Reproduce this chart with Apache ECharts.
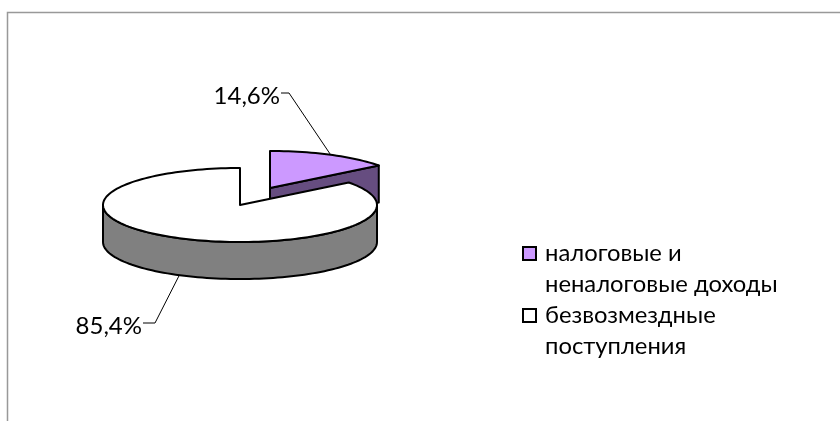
<!DOCTYPE html>
<html>
<head>
<meta charset="utf-8">
<script src="https://cdn.jsdelivr.net/npm/echarts@6/dist/echarts.min.js"></script>
<style>
html, body { margin: 0; background: #fff; }
#chart { width: 840px; height: 421px; }
</style>
</head>
<body>
<div id="chart"></div>
<script>
var categories = ['налоговые и\nненалоговые доходы', 'безвозмездные\nпоступления'];
var values = [14.6, 85.4];
var topColors = ['#cc99ff', '#ffffff'];
var sideColors = ['#664d80', '#808080'];

// tilted pie geometry
var centers = [[270, 188], [240, 205]];
var rx = 137, ry = 37, depth = 37;
var leaders = [
    { elbow: [289, 93], end: [281, 93], drop: 0 },
    { elbow: [155, 323], end: [143, 323], drop: 1 }
];
var fontFamily = 'Lato, "Noto Sans", sans-serif';
var total = values[0] + values[1];

function pt(c, deg, dy) {
    var a = deg * Math.PI / 180;
    return [c[0] + rx * Math.sin(a), c[1] - ry * Math.cos(a) + (dy || 0)];
}

function arc(c, from, to, dy) {
    var pts = [];
    var n = Math.max(2, Math.ceil(Math.abs(to - from) / 2));
    for (var i = 0; i <= n; i++) {
        pts.push(pt(c, from + (to - from) * i / n, dy));
    }
    return pts;
}

function sliceRenderer(index) {
    return function (params, api) {
        var start = 0;
        for (var i = 0; i < index; i++) start += values[i] / total * 360;
        var end = start + api.value(0) / total * 360;
        var c = centers[index];
        var stroke = { stroke: '#000', lineWidth: 2, lineJoin: 'round' };
        var children = [];

        // outer wall, only the front half of the rim shows
        var wallFrom = Math.max(start, 90), wallTo = Math.min(end, 270);
        if (wallTo > wallFrom) {
            children.push({
                type: 'polygon',
                shape: { points: arc(c, wallFrom, wallTo, 0).concat(arc(c, wallTo, wallFrom, depth)) },
                style: Object.assign({ fill: sideColors[index] }, stroke)
            });
        }
        // cut face turned to the viewer
        if (end < 180) {
            var tip = pt(c, end);
            children.push({
                type: 'polygon',
                shape: { points: [c, tip, [tip[0], tip[1] + depth], [c[0], c[1] + depth]] },
                style: Object.assign({ fill: sideColors[index] }, stroke)
            });
        }
        // top face
        children.push({
            type: 'polygon',
            shape: { points: [c].concat(arc(c, start, end, 0)) },
            style: Object.assign({ fill: topColors[index] }, stroke)
        });

        // leader starts from the rim at the middle of the slice
        var leader = leaders[index];
        var anchor = pt(c, (start + end) / 2, leader.drop * depth);
        children.push({
            type: 'polyline',
            shape: { points: [anchor, leader.elbow, leader.end] },
            style: { stroke: '#000', lineWidth: 1, fill: null }
        });
        children.push({
            type: 'text',
            style: {
                x: leader.end[0] - 1,
                y: leader.end[1] + 3,
                text: api.value(0).toFixed(1).replace('.', ',') + '%',
                align: 'right',
                verticalAlign: 'middle',
                fill: '#000',
                font: '24px ' + fontFamily
            }
        });
        return { type: 'group', children: children };
    };
}

var chart = echarts.init(document.getElementById('chart'));
chart.setOption({
    animation: false,
    backgroundColor: '#fff',
    legend: {
        left: 522,
        top: 207,
        padding: 0,
        orient: 'vertical',
        data: categories,
        icon: 'path://M0 0h1v1h-1z',
        itemWidth: 21,
        itemHeight: 13,
        itemGap: -31,
        selectedMode: false,
        itemStyle: { borderColor: '#000', borderWidth: 2 },
        // blank first line keeps the marker level with the first text line
        formatter: function (name) { return '\u00a0\n' + name; },
        textStyle: {
            fontFamily: 'Lato, "Noto Sans", sans-serif',
            fontSize: 23.8,
            lineHeight: 31,
            color: '#000'
        }
    },
    graphic: [{
        type: 'polyline',
        silent: true,
        shape: { points: [[7.5, 421], [7.5, 12.5], [840, 12.5]] },
        style: { stroke: '#999', lineWidth: 1.5, fill: null }
    }],
    series: [0, 1].map(function (i) {
        return {
            type: 'custom',
            name: categories[i],
            coordinateSystem: 'none',
            itemStyle: { color: topColors[i] },
            renderItem: sliceRenderer(i),
            data: [[values[i]]]
        };
    })
});
</script>
</body>
</html>
